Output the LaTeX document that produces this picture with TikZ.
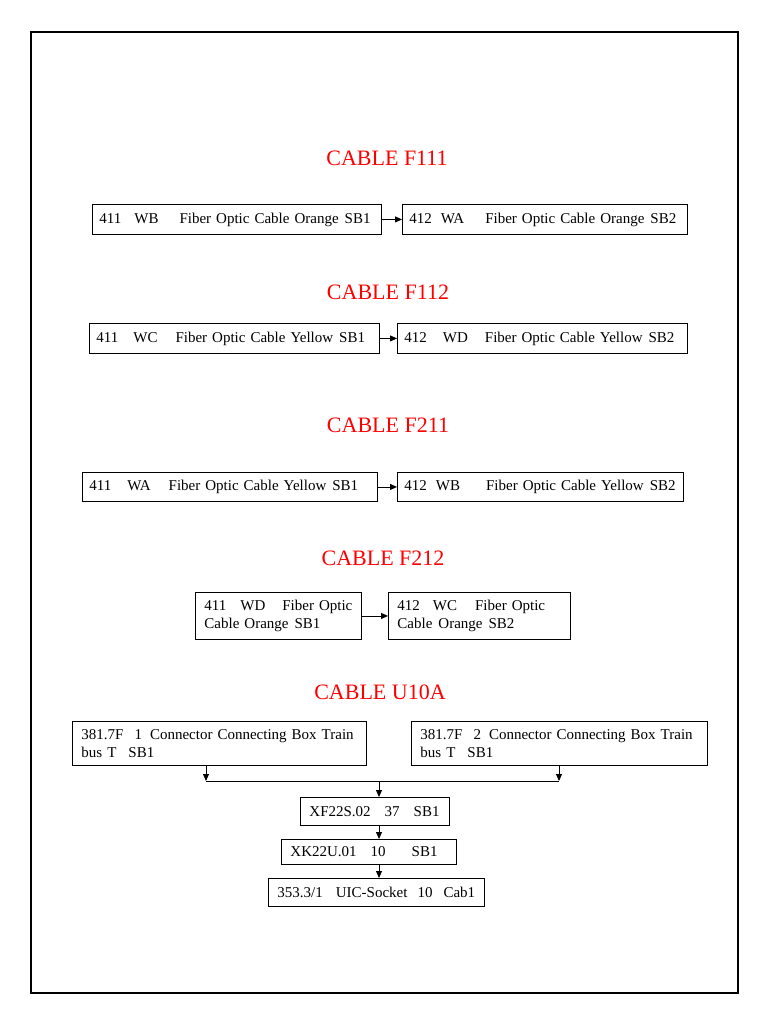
\documentclass[tikz,border=0pt]{standalone}
\usepackage{fontspec}
\setmainfont{Liberation Serif}
\usetikzlibrary{arrows.meta}

\hyphenpenalty=10000
\exhyphenpenalty=10000
\newcommand{\gp}[1]{\hspace*{#1pt}}

\tikzset{
  cable/.style={draw,line width=0.9pt,anchor=north west,inner xsep=7pt,inner ysep=0pt,
    align=left,font=\fontsize{15}{17.5}\selectfont},
  cabletitle/.style={text=red,font=\fontsize{22}{26}\selectfont},
}

\begin{document}
\begin{tikzpicture}[x=1pt,y=-1pt,>={Triangle[length=7pt,width=6pt]},line width=0.9pt]
\useasboundingbox (0,0) rectangle (768,1024);
\draw[line width=1.1pt] (31,32) rectangle (738,993);
% titles
\foreach \name/\x/\y in {F111/387/158,F112/388/292,F211/388/425,F212/383/558,U10A/380/692}{
  \node[cabletitle] (t\name) at (\x,\y) {CABLE \name};
}
% cable F111
\node[cable,text width=275pt,minimum height=30pt] (a1) at (92,204) {411\gp{13}WB\gp{21}Fiber Optic Cable Orange\gp{6}SB1};
\node[cable,text width=271pt,minimum height=30pt] (b1) at (402,204) {412\gp{9}WA\gp{21}Fiber Optic Cable Orange\gp{6}SB2};
\draw[->] (a1.east) -- (b1.west);
% cable F112
\node[cable,text width=276pt,minimum height=30pt] (a2) at (89,323) {411\gp{15}WC\gp{18}Fiber Optic Cable Yellow\gp{6}SB1};
\node[cable,text width=276pt,minimum height=30pt] (b2) at (397,323) {412\gp{16}WD\gp{17}Fiber Optic Cable Yellow\gp{6}SB2};
\draw[->] (a2.east) -- (b2.west);
% cable F211
\node[cable,text width=281pt,minimum height=29pt] (a3) at (82,472) {411\gp{16}WA\gp{18}Fiber Optic Cable Yellow\gp{6}SB1};
\node[cable,text width=272pt,minimum height=29pt] (b3) at (397,472) {412\gp{9}WB\gp{26}Fiber Optic Cable Yellow\gp{6}SB2};
\draw[->] (a3.east) -- (b3.west);
% cable F212
\node[cable,inner xsep=9pt,text width=148pt,minimum height=47pt] (a4) at (195,592) {411\gp{14}WD\gp{17}Fiber Optic\\Cable Orange\gp{6}SB1};
\node[cable,inner xsep=9pt,text width=164pt,minimum height=47pt] (b4) at (388,592) {412\gp{13}WC\gp{18}Fiber Optic\\Cable\gp{6}Orange\gp{6}SB2};
\draw[->] (a4.east) -- (a4.east -| b4.west);
% cable U10A
\node[cable,inner xsep=9pt,text width=276pt,minimum height=44pt] (l5) at (72,721) {381.7F\gp{11}1\gp{8}Connector Connecting Box Train\\bus T\gp{12}SB1};
\node[cable,inner xsep=9pt,text width=278pt,minimum height=44pt] (r5) at (411,721) {381.7F\gp{11}2\gp{8}Connector Connecting Box Train\\bus T\gp{12}SB1};
\node[cable,inner xsep=9pt,text width=131pt,minimum height=28pt] (xf) at (300,797) {XF22S.02\gp{14}37\gp{14}SB1};
\node[cable,inner xsep=9pt,text width=157pt,minimum height=25pt] (xk) at (281,839) {XK22U.01\gp{14}10\gp{26}SB1};
\node[cable,inner xsep=9pt,text width=198pt,minimum height=28pt] (uic) at (268,878) {\mbox{353.3/1\gp{13}UIC-Socket\gp{10}10\gp{11}Cab1}};
\coordinate (jl) at (206,781);
\coordinate (jr) at (559,781);
\coordinate (jm) at (379,781);
\draw[->] (l5.south -| jl) -- (jl);
\draw[->] (r5.south -| jr) -- (jr);
\draw (jl) -- (jr);
\draw[->] (jm) -- (jm |- xf.north);
\draw[->] (xf.south -| jm) -- (xk.north -| jm);
\draw[->] (xk.south -| jm) -- (uic.north -| jm);
\end{tikzpicture}
\end{document}
